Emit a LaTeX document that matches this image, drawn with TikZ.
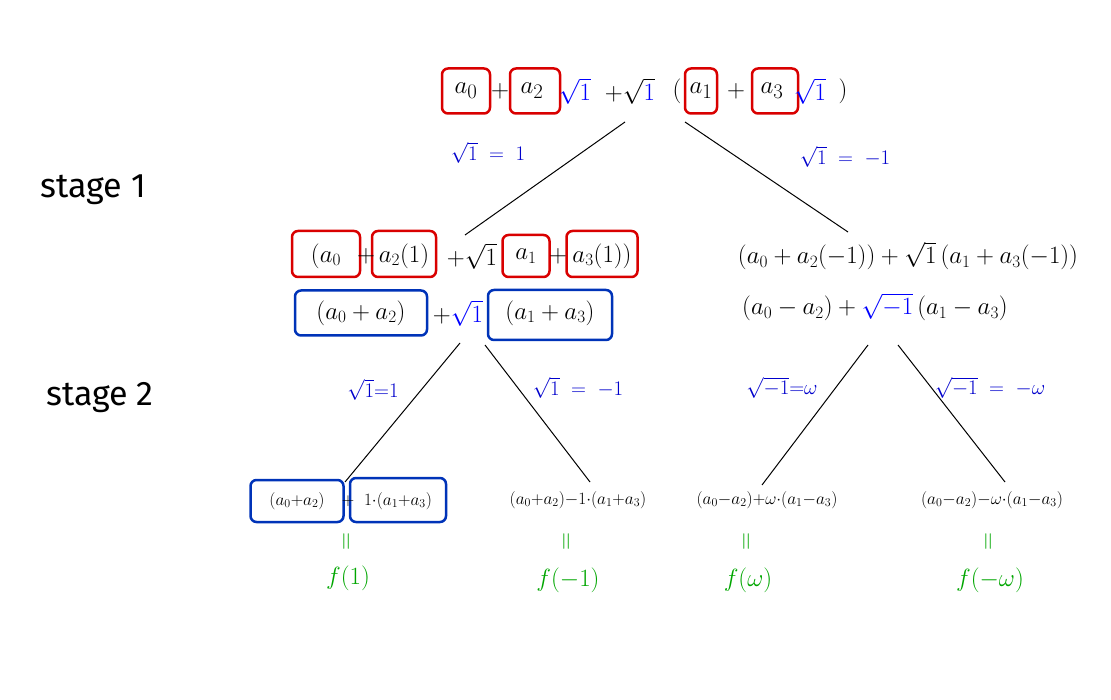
\documentclass[tikz,border=0pt]{standalone}
\usepackage{fontspec}
\setsansfont{Fira Sans}
\begin{document}
\begin{tikzpicture}[x=1pt,y=-1pt,
 txt/.style={inner sep=0pt,font=\fontsize{32}{36}\selectfont},
 mid/.style={inner sep=0pt,font=\fontsize{26}{30}\selectfont},
 sm/.style={inner sep=0pt,font=\fontsize{18}{22}\selectfont},
 bl/.style={inner sep=0pt,text=blue!80!black,font=\fontsize{22}{26}\selectfont},
 gr/.style={inner sep=0pt,text=green!65!black,font=\fontsize{30}{34}\selectfont},
 rbox/.style={draw=red!85!black,line width=2.5pt,rounded corners=6pt,inner sep=0pt},
 bbox/.style={draw=blue!65!black!80!cyan,line width=2.5pt,rounded corners=6pt,inner sep=0pt},
 edge/.style={line width=1pt},
 st/.style={inner sep=0pt,font=\sffamily\fontsize{34}{38}\selectfont}]
\useasboundingbox (0,0) rectangle (1111,700);
% top row
\node[rbox,minimum width=48,minimum height=45] (b0) at (466,91) {};
\node[rbox,minimum width=50,minimum height=45] (b2) at (535,91) {};
\node[rbox,minimum width=32,minimum height=45] (b1) at (701,91) {};
\node[rbox,minimum width=46,minimum height=45] (b3) at (775,91) {};
\node[txt] (t0) at (466,91) {$a_0$};
\node[txt] (tp1) at (500,91) {$+$};
\node[txt] (t2) at (532,91) {$a_2$};
\node[txt,text=blue] (ts1) at (575,91) {$\sqrt1$};
\node[txt] (tp2) at (630,91) {$+\sqrt{\textcolor{blue}{1}}$};
\node[txt] (tl) at (677,91) {$($};
\node[txt] (t1) at (701,91) {$a_1$};
\node[txt] (tp3) at (736,91) {$+$};
\node[txt] (t3) at (772,91) {$a_3$};
\node[txt,text=blue] (ts2) at (810,91) {$\sqrt1$};
\node[txt] (tr) at (843,91) {$)$};
\coordinate (top1) at (625,122);
\coordinate (top2) at (685,122);
\node[bl] at (488,153) {$\sqrt1\;=\;1$};
\node[bl] at (845,157) {$\sqrt1\;=\;-1$};
\node[st] at (93,190) {stage 1};
\node[st] at (100,398) {stage 2};
% row 2 left
\node[rbox,minimum width=68,minimum height=46] (c0) at (326,254) {};
\node[rbox,minimum width=64,minimum height=46] (c2) at (404,254) {};
\node[rbox,minimum width=47,minimum height=42] (c1) at (526,256) {};
\node[rbox,minimum width=71,minimum height=46] (c3) at (602,254) {};
\node[mid] at (326,256) {$(a_0$};
\node[mid] at (366,256) {$+$};
\node[mid] at (404,256) {$a_2(1)$};
\node[mid] at (472,256) {$+\sqrt1$};
\node[mid] at (526,256) {$a_1$};
\node[mid] at (558,256) {$+$};
\node[mid] at (602,256) {$a_3(1))$};
\coordinate (l2top) at (465,235);
% row 3 left
\node[bbox,minimum width=132,minimum height=45] (d0) at (361,313) {};
\node[bbox,minimum width=124,minimum height=50] (d1) at (550,315) {};
\node[mid] at (361,313) {$(a_0+a_2)$};
\node[mid] at (458,313) {$+\textcolor{blue}{\sqrt1}$};
\node[mid] at (550,313) {$(a_1+a_3)$};
% row 2/3 right
\node[mid] (r2) at (908,256) {$(a_0+a_2(-1))+\sqrt1\,(a_1+a_3(-1))$};
\node[mid] (r3) at (875,307) {$(a_0-a_2)+\textcolor{blue}{\sqrt{-1}}\,(a_1-a_3)$};
\coordinate (r2top) at (848,232);
\draw[edge] (top1) -- (l2top);
\draw[edge] (top2) -- (r2top);
% stage 2 lines
\coordinate (s1) at (460,343); \coordinate (s2) at (485,345);
\coordinate (s3) at (868,345); \coordinate (s4) at (898,345);
\coordinate (e1) at (345,482); \coordinate (e2) at (590,482);
\coordinate (e3) at (762,485); \coordinate (e4) at (1005,482);
\draw[edge] (s1) -- (e1); \draw[edge] (s2) -- (e2);
\draw[edge] (s3) -- (e3); \draw[edge] (s4) -- (e4);
\node[bl] at (373,390) {$\sqrt1{=}1$};
\node[bl] at (578,388) {$\sqrt1\;=\;-1$};
\node[bl] at (782,388) {$\sqrt{-1}{=}\omega$};
\node[bl] at (990,388) {$\sqrt{-1}\;=\;-\omega$};
% bottom
\node[bbox,minimum width=93,minimum height=42] (f0) at (297,501) {};
\node[bbox,minimum width=96,minimum height=44] (f1) at (398,500) {};
\node[sm] at (297,501) {$(a_0{+}a_2)$};
\node[sm] at (348,501) {$+$};
\node[sm] at (398,501) {$1{\cdot}(a_1{+}a_3)$};
\node[sm] at (578,500) {$(a_0{+}a_2){-}1{\cdot}(a_1{+}a_3)$};
\node[sm] at (767,500) {$(a_0{-}a_2){+}\omega{\cdot}(a_1{-}a_3)$};
\node[sm] at (992,500) {$(a_0{-}a_2){-}\omega{\cdot}(a_1{-}a_3)$};
\foreach \x/\t/\y in {348/1/578,568/-1/580,748/\omega/580,990/-\omega/580}{
 \node[gr,rotate=90] at (\x,542) {$=$};
 \node[gr] at (\x,\y) {$f(\t)$};}
\end{tikzpicture}
\end{document}
